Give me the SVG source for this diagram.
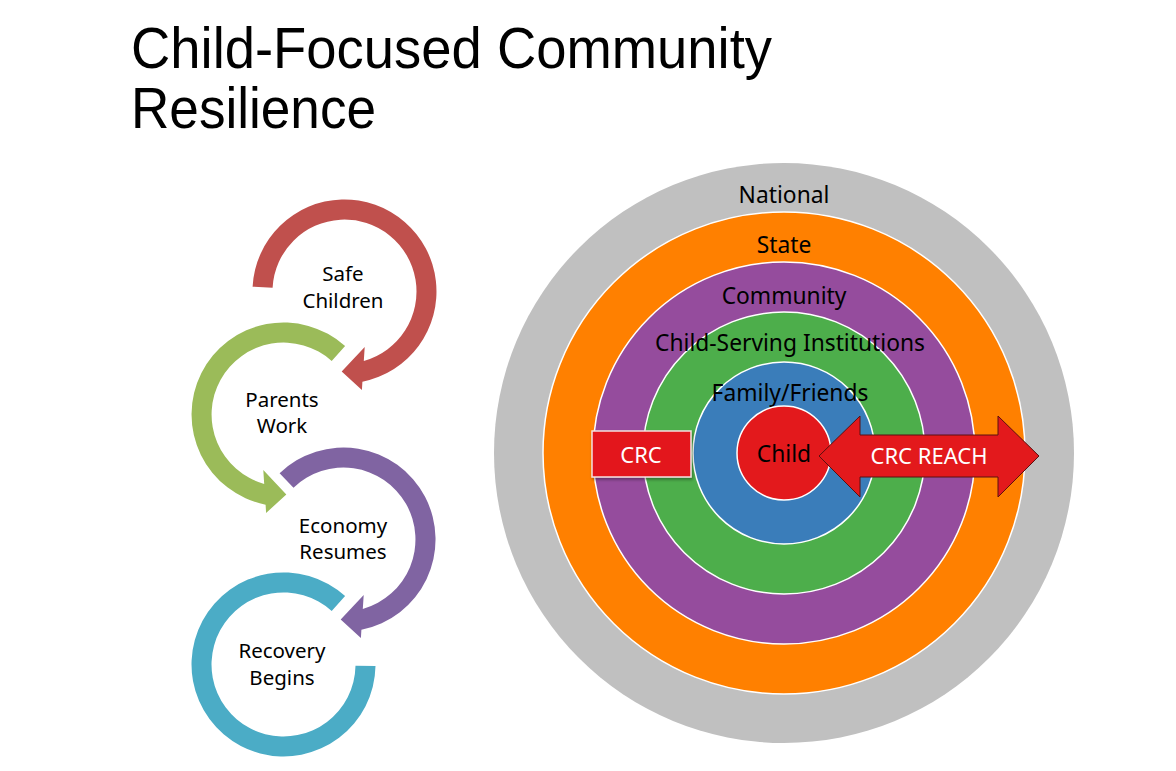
<svg xmlns="http://www.w3.org/2000/svg" width="1176" height="771" viewBox="0 0 1176 771">
  <defs>
    <style>
      .title { font-family: "Liberation Sans", Arial, sans-serif; font-size: 57px; fill: #000; }
      .lbl { font-family: "Noto Sans", "Open Sans", sans-serif; font-size: 20.5px; fill: #000; text-anchor: middle; }
      .ring { font-family: "Noto Sans", "Open Sans", sans-serif; font-size: 22.8px; fill: #000; text-anchor: middle; }
      .wt { font-family: "Noto Sans", "Open Sans", sans-serif; font-size: 22px; fill: #fff; text-anchor: middle; }
      .ringc { stroke: #ffffff; stroke-width: 1.5; }
    </style>
    <filter id="sh" x="-20%" y="-20%" width="140%" height="150%">
      <feDropShadow dx="1" dy="2" stdDeviation="1.5" flood-color="#000" flood-opacity="0.35"/>
    </filter>
  </defs>
  <rect width="1176" height="771" fill="#ffffff"/>

  <g id="title">
    <text class="title" x="131" y="68" textLength="641" lengthAdjust="spacingAndGlyphs">Child-Focused Community</text>
    <text class="title" x="131" y="128" textLength="245" lengthAdjust="spacingAndGlyphs">Resilience</text>
  </g>

  <g id="cycle">
    <g id="safe-children">
      <path fill="#C0504D" d="M252.6,286.7 A92,92 0 1 1 362.4,381.7 L361.9,390 L341.7,371.5 L364.7,346.9 L363.8,360.9 A72,72 0 1 0 272.6,287.7 Z"/>
      <text class="lbl" x="343" y="281">Safe</text>
      <text class="lbl" x="343" y="308">Children</text>
    </g>
    <g id="parents-work">
      <path fill="#9BBB59" d="M345.1,346.1 A92,92 0 1 0 265.6,504.7 L266.1,513 L286.3,494.5 L263.3,469.9 L264.2,483.9 A72,72 0 1 1 331.7,361 Z"/>
      <text class="lbl" x="282" y="407">Parents</text>
      <text class="lbl" x="282" y="433">Work</text>
    </g>
    <g id="economy-resumes">
      <path fill="#8064A2" d="M279.6,473.3 A92,92 0 1 1 361.4,629.7 L360.9,638 L340.7,619.5 L363.7,594.9 L362.8,608.9 A72,72 0 1 0 293.5,487.7 Z"/>
      <text class="lbl" x="343" y="533">Economy</text>
      <text class="lbl" x="343" y="559">Resumes</text>
    </g>
    <g id="recovery-begins">
      <path fill="#4BACC6" d="M345.1,596.1 A92,92 0 1 0 375.5,666.1 L355.5,665.8 A72,72 0 1 1 331.7,611 Z"/>
      <text class="lbl" x="282" y="658">Recovery</text>
      <text class="lbl" x="282" y="685">Begins</text>
    </g>
  </g>

  <g id="rings">
    <g id="national">
      <circle cx="784" cy="453" r="290" fill="#C0C0C0"/>
      <text class="ring" x="784" y="203">National</text>
    </g>
    <g id="state">
      <circle class="ringc" cx="784" cy="453" r="241" fill="#FF8000"/>
      <text class="ring" x="784" y="253">State</text>
    </g>
    <g id="community">
      <circle class="ringc" cx="784" cy="453" r="191" fill="#954C9D"/>
      <text class="ring" x="784" y="304">Community</text>
    </g>
    <g id="institutions">
      <circle class="ringc" cx="784" cy="453" r="141" fill="#4DAE4B"/>
      <text class="ring" x="790" y="351">Child-Serving Institutions</text>
    </g>
    <g id="family">
      <circle class="ringc" cx="784" cy="453" r="91" fill="#3A7DBA"/>
      <text class="ring" x="790" y="401">Family/Friends</text>
    </g>
    <g id="child">
      <circle class="ringc" cx="784" cy="453" r="47" fill="#E3191C"/>
      <text class="ring" x="784" y="462">Child</text>
    </g>
  </g>

  <g id="crc">
    <rect x="592" y="431" width="99" height="46" fill="#E3191C" stroke="#F4E0E0" stroke-width="1.5" filter="url(#sh)"/>
    <text class="wt" x="641" y="463">CRC</text>
  </g>

  <g id="connectors">
    <g id="crc-reach">
      <polygon points="819,456 860,416 860,435 998,435 998,416 1039,456 998,497 998,477 860,477 860,497" fill="#E3191C" stroke="#5A1010" stroke-width="1"/>
      <text class="wt" x="929" y="464">CRC REACH</text>
    </g>
  </g>
</svg>
